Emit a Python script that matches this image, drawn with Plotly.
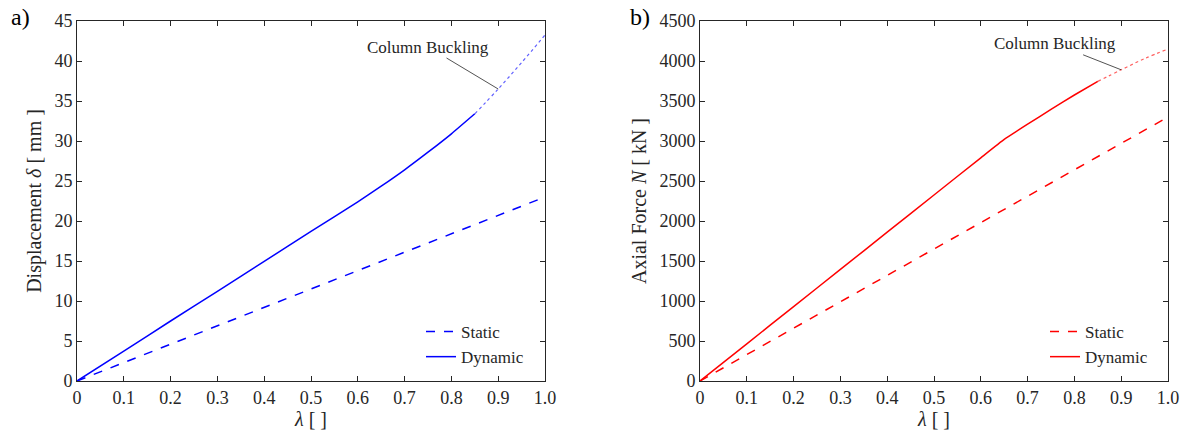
import plotly.graph_objects as go

lam = [0, 0.1, 0.2, 0.3, 0.4, 0.5, 0.6, 0.65, 0.7, 0.75, 0.8, 0.85]
lam_buck = [0.85, 0.9, 0.95, 1.0]
lam_static = [0, 1.0]

disp_static = [0, 23.0]
disp_dyn = [0, 3.74, 7.5, 11.2, 14.95, 18.7, 22.4, 24.35, 26.4, 28.6, 30.9, 33.4]
disp_buck = [33.4, 36.5, 39.8, 43.25]

force_static = [0, 3300]
force_dyn = [0, 465, 930, 1395, 1860, 2325, 2790, 3020, 3210, 3395, 3575, 3745]
force_buck = [3745, 3890, 4030, 4150]

x_ticks = [0, 0.1, 0.2, 0.3, 0.4, 0.5, 0.6, 0.7, 0.8, 0.9, 1.0]
x_tick_text = ["0", "0.1", "0.2", "0.3", "0.4", "0.5", "0.6", "0.7", "0.8", "0.9", "1.0"]

W, H = 1185, 436
FONT = "Liberation Serif"
BLUE = "#0000ff"
RED = "#ff0000"
INK = "#262626"

fig = go.Figure()

# Left panel
fig.add_trace(go.Scatter(x=lam_static, y=disp_static, mode="lines", name="Static",
                         line=dict(color=BLUE, width=1.5, dash="dash"), xaxis="x", yaxis="y", legend="legend"))
fig.add_trace(go.Scatter(x=lam, y=disp_dyn, mode="lines", name="Dynamic", line_shape="spline",
                         line=dict(color=BLUE, width=1.5, smoothing=0.5), xaxis="x", yaxis="y", legend="legend"))
fig.add_trace(go.Scatter(x=lam_buck, y=disp_buck, mode="lines", showlegend=False, line_shape="spline",
                         line=dict(color="#6060ff", width=1.2, dash="dot"), xaxis="x", yaxis="y"))

# Right panel
fig.add_trace(go.Scatter(x=lam_static, y=force_static, mode="lines", name="Static",
                         line=dict(color=RED, width=1.5, dash="dash"), xaxis="x2", yaxis="y2", legend="legend2"))
fig.add_trace(go.Scatter(x=lam, y=force_dyn, mode="lines", name="Dynamic", line_shape="spline",
                         line=dict(color=RED, width=1.5, smoothing=0.4), xaxis="x2", yaxis="y2", legend="legend2"))
fig.add_trace(go.Scatter(x=lam_buck, y=force_buck, mode="lines", showlegend=False, line_shape="spline",
                         line=dict(color="#ff6060", width=1.2, dash="dot"), xaxis="x2", yaxis="y2"))

def px_x(a, b):
    return [a / W, b / W]

ydom = [1 - 381 / H, 1 - 21 / H]

axis_common = dict(showgrid=False, zeroline=False, showline=True, linecolor=INK, linewidth=1,
                   ticks="inside", ticklen=5, tickcolor=INK, mirror="allticks", automargin=False,
                   tickfont=dict(family=FONT, size=18, color=INK))

title_font = dict(family=FONT, size=20, color=INK)
legend_font = dict(family=FONT, size=17, color=INK)

fig.update_layout(
    width=W, height=H,
    margin=dict(l=0, r=0, t=0, b=0),
    paper_bgcolor="white", plot_bgcolor="white",
    font=dict(family=FONT, color=INK, size=18),
    xaxis=dict(domain=px_x(77, 545), anchor="y", range=[0, 1.0], tickvals=x_ticks, ticktext=x_tick_text,
               title=dict(text="<i>λ</i> [ ]", font=title_font, standoff=2), **axis_common),
    yaxis=dict(domain=ydom, anchor="x", range=[0, 45], tickvals=list(range(0, 46, 5)),
               title=dict(text="Displacement <i>δ</i> [ mm ]", font=title_font, standoff=7), **axis_common),
    xaxis2=dict(domain=px_x(700, 1168), anchor="y2", range=[0, 1.0], tickvals=x_ticks, ticktext=x_tick_text,
                title=dict(text="<i>λ</i> [ ]", font=title_font, standoff=2), **axis_common),
    yaxis2=dict(domain=ydom, anchor="x2", range=[0, 4500], tickvals=list(range(0, 4501, 500)),
                title=dict(text="Axial Force <i>N</i> [ kN ]", font=title_font, standoff=7), **axis_common),
    legend=dict(x=421 / W, y=1 - 314 / H, xanchor="left", yanchor="top", bgcolor="rgba(0,0,0,0)",
                font=legend_font, tracegroupgap=0, itemwidth=30),
    legend2=dict(x=1045 / W, y=1 - 314 / H, xanchor="left", yanchor="top", bgcolor="rgba(0,0,0,0)",
                 font=legend_font, tracegroupgap=0, itemwidth=30),
    showlegend=True,
)

annos = [
    dict(text="a)", x=20 / W, y=1 - 17 / H, xref="paper", yref="paper", showarrow=False,
         font=dict(family=FONT, size=24, color="black"), xanchor="center", yanchor="middle"),
    dict(text="b)", x=640 / W, y=1 - 17 / H, xref="paper", yref="paper", showarrow=False,
         font=dict(family=FONT, size=24, color="black"), xanchor="center", yanchor="middle"),
    dict(text="Column Buckling", x=0.9, y=36.5, xref="x", yref="y", ax=-70, ay=-42,
         showarrow=True, arrowhead=0, arrowwidth=0.8, arrowcolor=INK,
         font=dict(family=FONT, size=17, color=INK)),
    dict(text="Column Buckling", x=0.9, y=3890, xref="x2", yref="y2", ax=-66, ay=-26,
         showarrow=True, arrowhead=0, arrowwidth=0.8, arrowcolor=INK,
         font=dict(family=FONT, size=17, color=INK)),
]
fig.update_layout(annotations=annos)

fig.write_html("out.html")
